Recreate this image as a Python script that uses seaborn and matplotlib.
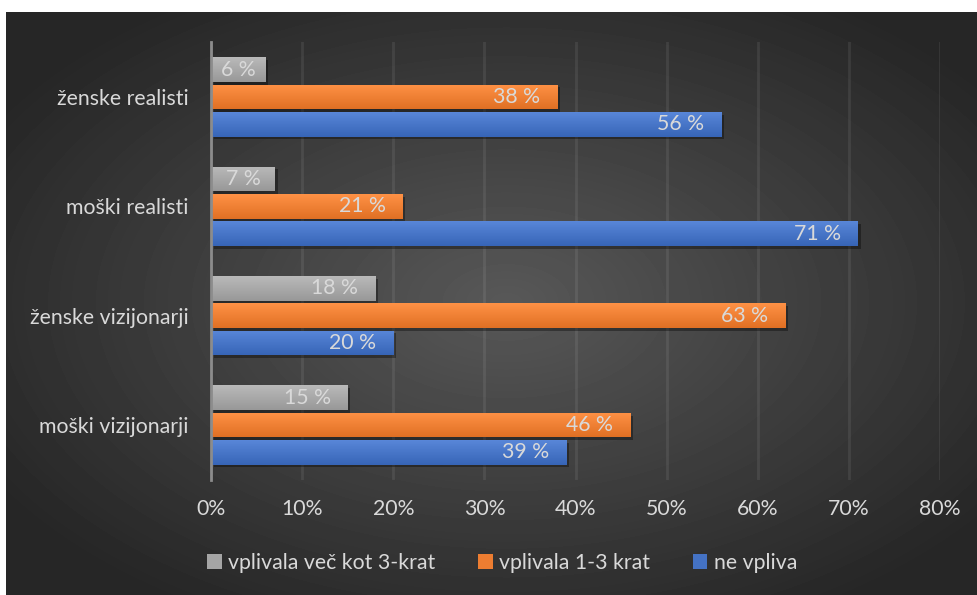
import numpy as np
import pandas as pd
import seaborn as sns
import matplotlib.pyplot as plt
import matplotlib.patheffects as pe
from matplotlib.patches import Patch
from matplotlib.colors import LinearSegmentedColormap, to_rgb

# Podatki
kategorije = ['ženske realisti', 'moški realisti', 'ženske vizijonarji', 'moški vizijonarji']
serije = ['vplivala več kot 3-krat', 'vplivala 1-3 krat', 'ne vpliva']
vec_kot_3 = [6, 7, 18, 15]
krat_1_3 = [38, 21, 63, 46]
ne_vpliva = [56, 71, 20, 39]
x_ticks = [0, 10, 20, 30, 40, 50, 60, 70, 80]

df = pd.DataFrame({
    'skupina': kategorije * 3,
    'serija': np.repeat(serije, len(kategorije)),
    'delez': vec_kot_3 + krat_1_3 + ne_vpliva,
})

barve = {serije[0]: '#a5a5a5', serije[1]: '#ed7d31', serije[2]: '#4472c4'}
text_col = '#d9d9d9'
fs = 15.3

plt.rcParams['font.family'] = ['Lato', 'DejaVu Sans']

W, H = 977, 595
fig = plt.figure(figsize=(W / 100, H / 100), dpi=100)
fig.patch.set_facecolor('white')

# temno ozadje z radialnim prelivom
bg = fig.add_axes([6 / W, 0, (W - 6) / W, (H - 12) / H])
yy, xx = np.mgrid[0:583, 0:971]
r = np.sqrt(((xx - 500) / 600) ** 2 + ((yy - 290) / 360) ** 2)
val = (88 - 50 * np.clip(r, 0, 1)) / 255
bg.imshow(val, cmap='gray', vmin=0, vmax=1, aspect='auto', interpolation='bilinear')
bg.axis('off')

# glavni graf
ax = fig.add_axes([211 / W, 1 - 479.7 / H, 729 / W, 437.4 / H])
ax.patch.set_alpha(0)
sns.barplot(data=df, x='delez', y='skupina', hue='serija', order=kategorije,
            hue_order=serije, palette=barve, width=0.75, gap=0.1, orient='h',
            errorbar=None, saturation=1, legend=False, ax=ax, zorder=3)

ax.set_xlim(0, 80)
ax.set_xticks(x_ticks)
ax.set_xticklabels([f'{t}%' for t in x_ticks])
ax.xaxis.grid(True, color='white', alpha=0.08, linewidth=2)
ax.yaxis.grid(False)
ax.set_axisbelow(True)
for s in ['top', 'right', 'bottom']:
    ax.spines[s].set_visible(False)
ax.spines['left'].set_color('#8c8c8c')
ax.spines['left'].set_linewidth(2)
ax.spines['left'].set_zorder(5)
ax.tick_params(axis='x', length=0, pad=14, labelcolor=text_col, labelsize=fs)
ax.tick_params(axis='y', length=0, pad=16, labelcolor=text_col, labelsize=fs)
ax.set_xlabel('')
ax.set_ylabel('')

# preliv na stolpcih, senca in oznake
px_per_unit = 729 / 80
for patch in list(ax.patches):
    x0, y0 = patch.get_x(), patch.get_y()
    w, h = patch.get_width(), patch.get_height()
    if w <= 0:
        continue
    base = np.array(to_rgb(patch.get_facecolor()))
    light = np.clip(base + 0.08, 0, 1)
    dark = np.clip(base - 0.05, 0, 1)
    cmap = LinearSegmentedColormap.from_list('g', [light, dark])
    patch.set_path_effects([pe.SimplePatchShadow(offset=(2, -2), shadow_rgbFace='black', alpha=0.35),
                            pe.Normal()])
    im = ax.imshow(np.linspace(0, 1, 50).reshape(-1, 1), cmap=cmap, aspect='auto',
                   extent=[x0, x0 + w, y0 + h, y0], origin='upper', zorder=4)
    im.set_clip_path(patch)
    lab = f'{int(round(w))} %'
    yc = y0 + h / 2
    if w * px_per_unit < 80:
        ax.text(x0 + w / 2, yc, lab, ha='center', va='center', color=text_col,
                fontsize=fs, zorder=6)
    else:
        ax.annotate(lab, xy=(x0 + w, yc), xytext=(-12.2, 0), textcoords='offset points',
                    ha='right', va='center', color=text_col, fontsize=fs, zorder=6)

ax.set_xlim(0, 80)
ax.set_ylim(3.5, -0.5)

handles = [Patch(facecolor=barve[s], edgecolor='none') for s in serije]
fig.legend(handles, serije, loc='center', bbox_to_anchor=(502 / W, 1 - 563 / H), ncol=3,
           frameon=False, labelcolor=text_col, fontsize=fs, handlelength=0.7,
           handleheight=0.7, columnspacing=2.0, handletextpad=0.3)

fig.savefig('out.png', dpi=100)
